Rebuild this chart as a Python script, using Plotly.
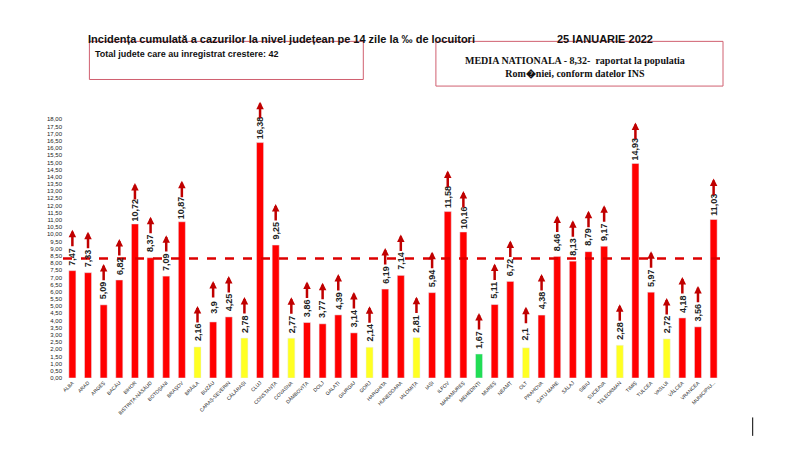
import plotly.graph_objects as go

counties = ["ALBA","ARAD","ARGEȘ","BACĂU","BIHOR","BISTRIȚA-NĂSĂUD","BOTOȘANI","BRAȘOV","BRĂILA","BUZĂU",
"CARAȘ-SEVERIN","CĂLĂRAȘI","CLUJ","CONSTANȚA","COVASNA","DÂMBOVIȚA","DOLJ","GALAȚI","GIURGIU","GORJ",
"HARGHITA","HUNEDOARA","IALOMIȚA","IAȘI","ILFOV","MARAMUREȘ","MEHEDINȚI","MUREȘ","NEAMȚ","OLT",
"PRAHOVA","SATU MARE","SĂLAJ","SIBIU","SUCEAVA","TELEORMAN","TIMIȘ","TULCEA","VASLUI","VÂLCEA","VRANCEA","MUNICIPIU..."]
values = [7.47,7.33,5.09,6.82,10.72,8.37,7.09,10.87,2.16,3.9,4.25,2.78,16.38,9.25,2.77,3.86,3.77,4.39,3.14,2.14,
6.19,7.14,2.81,5.94,11.58,10.16,1.67,5.11,6.72,2.1,4.38,8.46,8.13,8.79,9.17,2.28,14.93,5.97,2.72,4.18,3.56,11.03]
national = 8.32
yticks = [i*0.5 for i in range(37)]

def col(v):
    if v < 1.9: return "#22dd55"
    if v <= 3.0: return "#ffff22"
    return "#ff0000"

def fmt(v):
    return ("%g" % v).replace(".", ",")

x = list(range(len(counties)))
fig = go.Figure(go.Bar(x=x, y=values, marker_color=[col(v) for v in values], width=0.45))
ann = []
for i, v in enumerate(values):
    ann.append(dict(x=i, y=v+1.0, text="<b>"+fmt(v)+"</b>", textangle=-90, showarrow=False,
                    font=dict(size=9, color="#222", family="Liberation Sans")))
    ann.append(dict(x=i, y=v+2.85, ax=i, ay=v+1.6, xref="x", yref="y", axref="x", ayref="y",
                    showarrow=True, arrowhead=2, arrowsize=0.6, arrowwidth=2.5, arrowcolor="#c00000", text=""))
ann += [
    dict(xref="paper", yref="paper", x=0.035, y=1.32, xanchor="left", showarrow=False,
         text="<b>Incidența cumulată a cazurilor la nivel județean pe 14 zile la ‰ de locuitori</b>",
         font=dict(size=11, color="#111", family="Liberation Sans")),
    dict(xref="paper", yref="paper", x=0.745, y=1.32, xanchor="left", showarrow=False,
         text="<b>25 IANUARIE 2022</b>", font=dict(size=11, color="#111", family="Liberation Sans")),
    dict(xref="paper", yref="paper", x=0.045, y=1.26, xanchor="left", showarrow=False,
         text="<b>Total judete care au inregistrat crestere: 42</b>", font=dict(size=9, color="#111", family="Liberation Sans")),
    dict(xref="paper", yref="paper", x=0.775, y=1.235, xanchor="center", showarrow=False,
         text="<b>MEDIA NATIONALA - 8,32-  raportat la populatia<br>Rom�niei, conform datelor INS</b>",
         font=dict(size=10, color="#111", family="Liberation Serif")),
]
shapes = [
    dict(type="line", xref="paper", x0=0, x1=1, y0=national, y1=national, line=dict(color="#dd0000", width=2.5, dash="dash")),
    dict(type="rect", xref="paper", yref="paper", x0=0.04, x1=0.455, y0=1.135, y1=1.28, line=dict(color="#d06070", width=1)),
    dict(type="rect", xref="paper", yref="paper", x0=0.565, x1=1.0, y0=1.11, y1=1.28, line=dict(color="#d06070", width=1)),
    dict(type="line", xref="paper", yref="paper", x0=1.045, x1=1.045, y0=-0.15, y1=-0.22, line=dict(color="#000", width=1)),
]
fig.update_layout(width=800, height=452, paper_bgcolor="white", plot_bgcolor="white",
    margin=dict(l=55, r=85, t=107, b=82), showlegend=False, annotations=ann, shapes=shapes, bargap=0.5)
fig.update_yaxes(range=[0, 18.3], tickvals=yticks, ticktext=[("%.2f" % t).replace(".", ",") for t in yticks],
    tickfont=dict(size=6, color="#222", family="Liberation Sans"), showgrid=False, zeroline=False, ticks="")
fig.update_xaxes(tickvals=x, ticktext=counties, tickangle=-45, range=[-0.6, 41.6],
    tickfont=dict(size=5, color="#222", family="Liberation Sans"), showgrid=False, ticks="")
fig.write_html("out.html")
